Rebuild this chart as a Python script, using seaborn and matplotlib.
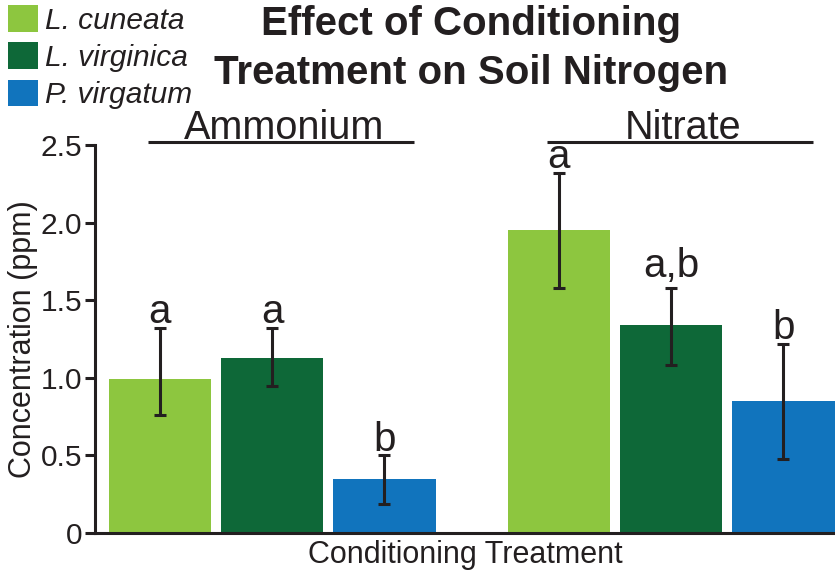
import numpy as np
import pandas as pd
import matplotlib
matplotlib.use("Agg")
import matplotlib.pyplot as plt
import seaborn as sns

# ---- data ----
treatments = ["Ammonium", "Nitrate"]
species = ["L. cuneata", "L. virginica", "P. virgatum"]
ammonium_mean = [0.99, 1.13, 0.35]
ammonium_low = [0.76, 0.95, 0.19]
ammonium_high = [1.32, 1.32, 0.50]
nitrate_mean = [1.95, 1.34, 0.85]
nitrate_low = [1.58, 1.08, 0.48]
nitrate_high = [2.32, 1.58, 1.22]
ammonium_letters = ["a", "a", "b"]
nitrate_letters = ["a", "a,b", "b"]
colors = ["#8DC63F", "#0E6838", "#1174BD"]
yticks = [0, 0.5, 1.0, 1.5, 2.0, 2.5]
ytick_labels = ["0", "0.5", "1.0", "1.5", "2.0", "2.5"]

rows = []
for t, means, lows, highs, letters in [
    ("Ammonium", ammonium_mean, ammonium_low, ammonium_high, ammonium_letters),
    ("Nitrate", nitrate_mean, nitrate_low, nitrate_high, nitrate_letters),
]:
    for s, m, lo, hi, let in zip(species, means, lows, highs, letters):
        rows.append(dict(Treatment=t, Species=s, Concentration=m, low=lo, high=hi, letter=let))
df = pd.DataFrame(rows)

sns.set_theme(style="white")
plt.rcParams["font.family"] = ["Liberation Sans", "DejaVu Sans"]
ink = "#231F20"

W, H = 835, 571
fig = plt.figure(figsize=(W / 100, H / 100), dpi=100)
ax_l, ax_r, ax_b, ax_t = 95, 835, 533, 145
ax = fig.add_axes([ax_l / W, 1 - ax_b / H, (ax_r - ax_l) / W, (ax_b - ax_t) / H])

sns.barplot(data=df, x="Treatment", y="Concentration", hue="Species",
            order=treatments, hue_order=species, palette=colors,
            width=0.845, gap=0.09, errorbar=None, saturation=1, linewidth=0, ax=ax)

handles, labels = ax.get_legend_handles_labels()
if ax.get_legend() is not None:
    ax.get_legend().remove()

# error bars and letters from the bar geometry
bar_containers = list(ax.containers)
for ci, cont in enumerate(bar_containers):
    sp = species[ci]
    for bar in cont:
        xc = bar.get_x() + bar.get_width() / 2
        t = treatments[int(round(xc))]
        r = df[(df.Treatment == t) & (df.Species == sp)].iloc[0]
        m = r.Concentration
        ax.errorbar(xc, m, yerr=[[m - r.low], [r.high - m]], fmt="none",
                    ecolor=ink, elinewidth=2.2, capsize=4.5, capthick=2.2, zorder=5)
        off = 8 if "," in r.letter else 3.5
        ax.annotate(r.letter, (xc, r.high), xytext=(0, off), textcoords="offset points",
                    ha="center", va="baseline", fontsize=29, color=ink)

ax.set_xlim(-0.444, 1.411)
ax.set_ylim(0, 2.5)
ax.set_yticks(yticks)
ax.set_yticklabels(ytick_labels)
ax.set_xticks([])
ax.tick_params(axis="y", length=7, width=2.2, color=ink, labelsize=21.5,
               labelcolor=ink, pad=2, left=True)
for side in ["top", "right"]:
    ax.spines[side].set_visible(False)
for side in ["left", "bottom"]:
    ax.spines[side].set_linewidth(2.2)
    ax.spines[side].set_color(ink)
ax.set_ylabel("Concentration (ppm)", fontsize=22, color=ink, labelpad=2)
ax.set_xlabel("Conditioning Treatment", fontsize=22, color=ink, labelpad=5)

# group labels with lines
for i, t in enumerate(treatments):
    ax.plot([i - 0.31, i + 0.355], [2.519, 2.519], color=ink, lw=2.2,
            clip_on=False, solid_capstyle="butt")
    ax.text(i + 0.03, 2.54, t, ha="center", va="baseline", fontsize=28.5, color=ink,
            clip_on=False)

# title
fig.text(471 / W, 1 - 24 / H, "Effect of Conditioning", ha="center", va="center",
         fontsize=29, fontweight="bold", color=ink)
fig.text(471 / W, 1 - 73 / H, "Treatment on Soil Nitrogen", ha="center", va="center",
         fontsize=29, fontweight="bold", color=ink)

fig.legend(handles, labels, loc="upper left", bbox_to_anchor=(8 / W, 1 - 5 / H),
           frameon=False, prop=dict(style="italic", size=21.5), handlelength=1.0,
           handleheight=1.0, handletextpad=0.25, labelspacing=0.26, borderpad=0,
           borderaxespad=0, labelcolor=ink)

fig.savefig("out.png", dpi=100)
